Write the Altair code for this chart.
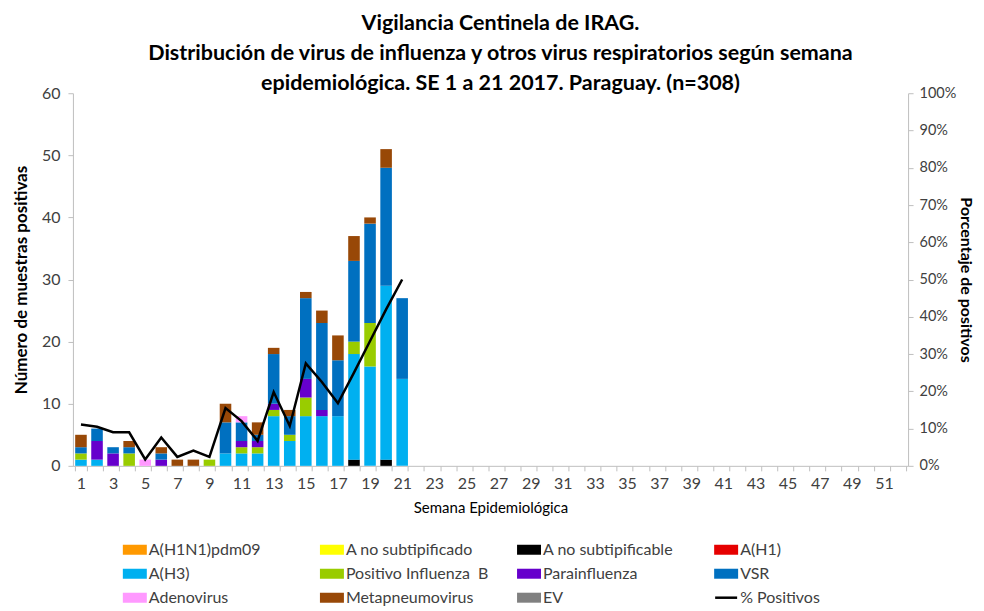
import altair as alt
import pandas as pd

# ---------------- data ----------------
weeks = [1, 2, 3, 4, 5, 6, 7, 8, 9, 10, 11, 12, 13, 14, 15, 16, 17, 18, 19, 20, 21]
all_weeks = list(range(1, 53))

virus_names = ["A(H1N1)pdm09", "A no subtipificado", "A no subtipificable", "A(H1)",
               "A(H3)", "Positivo Influenza \u00a0B", "Parainfluenza", "VSR",
               "Adenovirus", "Metapneumovirus", "EV"]
virus_colors = ["#FF9900", "#FFFF00", "#000000", "#E60000",
                "#00B0F0", "#99CC00", "#6600CC", "#0070C0",
                "#FF99FF", "#984807", "#808080"]

h1n1 =        [0, 0, 0, 0, 0, 0, 0, 0, 0, 0, 0, 0, 0, 0, 0, 0, 0, 0, 0, 0, 0]
a_nosub =     [0, 0, 0, 0, 0, 0, 0, 0, 0, 0, 0, 0, 0, 0, 0, 0, 0, 0, 0, 0, 0]
a_nosubable = [0, 0, 0, 0, 0, 0, 0, 0, 0, 0, 0, 0, 0, 0, 0, 0, 0, 1, 0, 1, 0]
a_h1 =        [0, 0, 0, 0, 0, 0, 0, 0, 0, 0, 0, 0, 0, 0, 0, 0, 0, 0, 0, 0, 0]
a_h3 =        [1, 1, 0, 0, 0, 0, 0, 0, 0, 2, 2, 2, 8, 4, 8, 8, 8, 17, 16, 28, 14]
flu_b =       [1, 0, 0, 2, 0, 0, 0, 0, 1, 0, 1, 1, 1, 1, 3, 0, 0, 2, 7, 0, 0]
parainf =     [0, 3, 2, 0, 0, 1, 0, 0, 0, 0, 1, 1, 1, 0, 3, 1, 0, 0, 0, 0, 0]
vsr =         [1, 2, 1, 1, 0, 1, 0, 0, 0, 5, 3, 1, 8, 3, 13, 14, 9, 13, 16, 19, 13]
adeno =       [0, 0, 0, 0, 1, 0, 0, 0, 0, 0, 1, 0, 0, 0, 0, 0, 0, 0, 0, 0, 0]
metapneumo =  [2, 0, 0, 1, 0, 1, 1, 1, 0, 3, 0, 2, 1, 1, 1, 2, 4, 4, 1, 3, 0]
ev =          [0, 0, 0, 0, 0, 0, 0, 0, 0, 0, 0, 0, 0, 0, 0, 0, 0, 0, 0, 0, 0]

pct_positivos = [11.1, 10.5, 9.0, 9.0, 1.7, 7.6, 2.4, 4.1, 2.4, 15.5, 12.0,
                 6.7, 19.8, 10.7, 27.5, 22.5, 16.8, 25.0, 33.5, 42.0, 50.0]

series = [h1n1, a_nosub, a_nosubable, a_h1, a_h3, flu_b, parainf, vsr, adeno, metapneumo, ev]

title_lines = ["Vigilancia Centinela de IRAG.",
               "Distribución de virus de influenza y otros virus respiratorios según semana",
               "epidemiológica. SE 1 a 21 2017. Paraguay. (n=308)"]

# ---------------- tables ----------------
rows = []
for idx, (name, vals) in enumerate(zip(virus_names, series)):
    for w, v in zip(weeks, vals):
        rows.append({"week": w, "virus": name, "count": v, "idx": idx})
df = pd.DataFrame(rows)
pct_df = pd.DataFrame({"week": weeks, "pct": pct_positivos})

legend_names = virus_names + ["% Positivos"]
legend_colors = virus_colors + ["#000000"]
leg_df = pd.DataFrame({
    "name": legend_names,
    "color": legend_colors,
    "row": [i // 4 for i in range(len(legend_names))],
    "col": [i % 4 for i in range(len(legend_names))],
})

FONT = "Lato"
GRAY = "#BFBFBF"
LBL = "#404040"
W = 836

xscale = alt.Scale(domain=all_weeks, paddingInner=0.28, paddingOuter=0.14)
x_axis = alt.Axis(title="Semana Epidemiológica", labelAngle=0, labelOverlap=False,
                  labelExpr="datum.value % 2 == 1 ? datum.label : ''",
                  tickBand="extent", tickSize=5, tickColor=GRAY, domainColor=GRAY,
                  labelFontSize=16, labelColor=LBL, labelPadding=5,
                  titleFontSize=15, titleFontWeight="normal", titleColor="#000000",
                  titlePadding=9)

bars = alt.Chart(df).mark_bar().encode(
    x=alt.X("week:O", scale=xscale, axis=x_axis),
    y=alt.Y("count:Q", stack="zero", scale=alt.Scale(domain=[0, 60]),
            axis=alt.Axis(title="Número de muestras positivas", values=[0, 10, 20, 30, 40, 50, 60],
                          grid=False, tickSize=5, tickColor=GRAY, domainColor=GRAY,
                          labelFontSize=16, labelColor=LBL, labelPadding=8,
                          titleFontSize=17, titleFontWeight="bold", titleColor="#000000",
                          titlePadding=11)),
    color=alt.Color("virus:N", scale=alt.Scale(domain=virus_names, range=virus_colors), legend=None),
    order=alt.Order("idx:Q", sort="ascending"),
)

line = alt.Chart(pct_df).mark_line(color="#000000", strokeWidth=2.5).encode(
    x=alt.X("week:O", scale=xscale, axis=x_axis),
    y=alt.Y("pct:Q", scale=alt.Scale(domain=[0, 100]),
            axis=alt.Axis(orient="right", title="Porcentaje de positivos",
                          values=[0, 10, 20, 30, 40, 50, 60, 70, 80, 90, 100],
                          labelExpr="datum.value + '%'", grid=False,
                          tickSize=5, tickColor=GRAY, domainColor=GRAY,
                          labelFontSize=14.5, labelColor=LBL, labelPadding=6,
                          titleFontSize=16, titleFontWeight="bold", titleColor="#000000",
                          titlePadding=2)),
)

main = alt.layer(bars, line).resolve_scale(y="independent").properties(
    width=W, height=373,
    title=alt.TitleParams(text=title_lines, fontSize=21.5, lineHeight=30, font=FONT,
                          fontWeight="bold", anchor="middle", color="#000000",
                          offset=-9, dx=10),
)

lx = alt.X("col:Q", scale=alt.Scale(domain=[-0.314, 3.923]), axis=None)
ly = alt.Y("row:Q", scale=alt.Scale(domain=[-0.25, 2.25], reverse=True), axis=None)

leg_sw = alt.Chart(leg_df).transform_filter("datum.name != '% Positivos'").mark_tick(
    orient="horizontal", size=24, thickness=10, opacity=1).encode(
    x=lx, y=ly, color=alt.Color("color:N", scale=None))
leg_ln = alt.Chart(leg_df).transform_filter("datum.name == '% Positivos'").mark_tick(
    orient="horizontal", size=22, thickness=2.5, color="#000000", opacity=1).encode(x=lx, y=ly)
leg_tx = alt.Chart(leg_df).mark_text(align="left", baseline="middle", dx=14, fontSize=16,
                                     color=LBL, font=FONT).encode(x=lx, y=ly, text="name:N")
legend = alt.layer(leg_sw, leg_ln, leg_tx).properties(width=W, height=60)

chart = alt.vconcat(main, legend, spacing=26).configure(
    font=FONT, padding={"left": 4, "top": 4, "right": 2, "bottom": 0}
).configure_view(stroke=None)

chart.save("out.html", embed_options={"renderer": "svg", "actions": False})
